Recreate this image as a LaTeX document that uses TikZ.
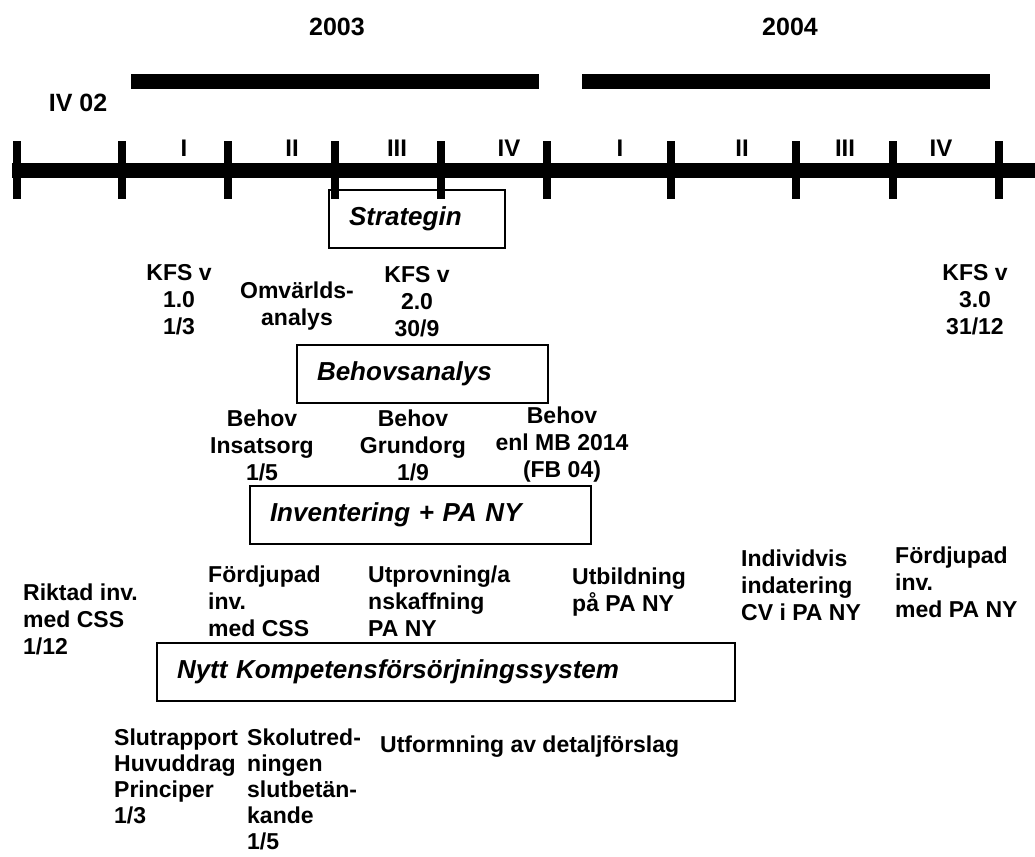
\documentclass[tikz,border=0pt]{standalone}
\usepackage{fontspec}
\setmainfont{Liberation Sans}
\begin{document}
\begin{tikzpicture}[x=1pt,y=-1pt,
  txt/.style={inner sep=0pt, font=\fontsize{23}{27}\selectfont\bfseries, align=center, anchor=north},
  txtl/.style={txt, align=left, anchor=north west},
  txtt/.style={txtl, font=\fontsize{23}{26}\selectfont\bfseries},
  head/.style={inner sep=0pt, font=\fontsize{25}{30}\selectfont\bfseries},
  quarter/.style={inner sep=0pt, font=\fontsize{24}{29}\selectfont\bfseries},
  phase/.style={draw, line width=2pt, inner xsep=20pt, inner ysep=0pt,
    minimum height=58pt, anchor=west, align=left,
    font=\fontsize{26}{31}\selectfont\bfseries\itshape},
  yearbar/.style={line width=15pt},
  axisline/.style={line width=15pt},
  tickmark/.style={line width=8pt}]
\useasboundingbox (0,0) rectangle (1035,856);
\fill[white] (0,0) rectangle (1035,856);

% year headings and their bars
\node[head] (y2003) at (337,27) {2003};
\node[head] (y2004) at (790,27) {2004};
\draw[yearbar] (131,81.5) -- (539,81.5);
\draw[yearbar] (582,81.5) -- (990,81.5);
\node[head] (iv02) at (78,103) {IV 02};

% time axis with quarter ticks
\draw[axisline] (12,170) -- (1035,170);
\foreach \x in {17,122,228,335,441,547,671,796,893,999}
  \draw[tickmark] (\x,141) -- (\x,199);

% quarter labels
\node[quarter] (q1a) at (184,148) {I};
\node[quarter] (q2a) at (292,148) {II};
\node[quarter] (q3a) at (397,148) {III};
\node[quarter] (q4a) at (509,148) {IV};
\node[quarter] (q1b) at (620,148) {I};
\node[quarter] (q2b) at (742,148) {II};
\node[quarter] (q3b) at (845,148) {III};
\node[quarter] (q4b) at (941,148) {IV};

% activity boxes
\node[phase, text width=136pt] (strategin) at (328,219) {Strategin};
\node[phase, text width=211pt] (behov) at (296,374) {Behovsanalys};
\node[phase, text width=301pt] (inv) at (249,515) {Inventering + PA NY};
\node[phase, text width=538pt] (kfs) at (156,671.5) {Nytt Kompetensförsörjningssystem};

% milestones around the strategy
\node[txt] (kfs1) at (179,264) {KFS v\\1.0\\1/3};
\node[txt] (omv) at (297,282) {Omvärlds-\\analys};
\node[txt] (kfs2) at (417,266) {KFS v\\2.0\\30/9};
\node[txt] (kfs3) at (975,264) {KFS v\\3.0\\31/12};

% needs analysis milestones
\node[txt] (binsats) at (262,410) {Behov\\Insatsorg\\1/5};
\node[txt] (bgrund) at (413,410) {Behov\\Grundorg\\1/9};
\node[txt] (bmb) at (562,407) {Behov\\enl MB 2014\\(FB 04)};

% inventory steps
\node[txtl] (riktad) at (23,584) {Riktad inv.\\med CSS\\1/12};
\node[txtl] (fordcss) at (208,566) {Fördjupad\\inv.\\med CSS};
\node[txtl] (utprov) at (368,566) {Utprovning/a\\nskaffning\\PA NY};
\node[txtl] (utbild) at (572,568) {Utbildning\\på PA NY};
\node[txtl] (indiv) at (741,550) {Individvis\\indatering\\CV i PA NY};
\node[txtl] (fordpa) at (895,547) {Fördjupad\\inv.\\med PA NY};

% reports below the system box
\node[txtt] (slutr) at (114,729) {Slutrapport\\Huvuddrag\\Principer\\1/3};
\node[txtt] (skol) at (247,729) {Skolutred-\\ningen\\slutbetän-\\kande\\1/5};
\node[txtl] (utform) at (380,736) {Utformning av detaljförslag};
\end{tikzpicture}
\end{document}
